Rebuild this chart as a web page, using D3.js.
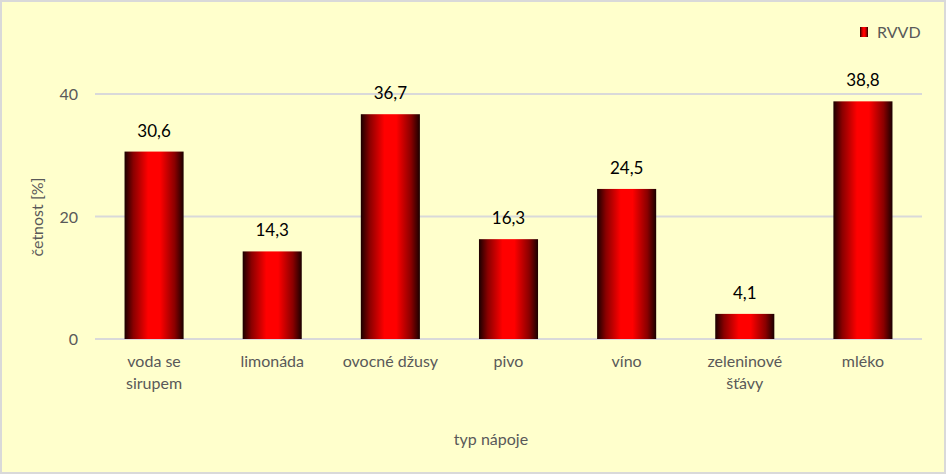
<!DOCTYPE html>
<html><head><meta charset="utf-8">
<script src="https://cdn.jsdelivr.net/npm/d3@7"></script>
<style>body{margin:0;background:#fff}svg{display:block}text{font-family:Lato,"Open Sans",sans-serif}</style>
</head><body>
<svg id="c" width="946" height="474"></svg>
<script>
const categories = [["voda se","sirupem"],["limonáda"],["ovocné džusy"],["pivo"],["víno"],["zeleninové","šťávy"],["mléko"]];
const values = [30.6,14.3,36.7,16.3,24.5,4.1,38.8];
const yTicks = [0,20,40];
const seriesName = "RVVD";

const svg = d3.select("#c");
svg.append("rect").attr("x",1).attr("y",1).attr("width",944).attr("height",472)
  .attr("fill","#ffffcc").attr("stroke","#d9d9d9").attr("stroke-width",2);

const defs = svg.append("defs");
const g = defs.append("linearGradient").attr("id","bg").attr("x1","0").attr("x2","1").attr("y1","0").attr("y2","0");
[["0%","#1a0000"],["15%","#8a0000"],["40%","#ff0000"],["60%","#ff0000"],["85%","#8a0000"],["100%","#1a0000"]]
 .forEach(s=>g.append("stop").attr("offset",s[0]).attr("stop-color",s[1]));

const x = d3.scaleBand().domain(d3.range(values.length)).range([95,922]).paddingInner(0.5).paddingOuter(0.25);
const y = d3.scaleLinear().domain([0,40]).range([339,94]);

svg.append("g").selectAll("line").data(yTicks).join("line")
  .attr("x1",95).attr("x2",922).attr("y1",d=>y(d)).attr("y2",d=>y(d))
  .attr("stroke","#d9d9d9").attr("stroke-width",2);

svg.append("g").selectAll("text").data(yTicks).join("text")
  .attr("x",78).attr("y",d=>y(d)+6).attr("text-anchor","end")
  .attr("font-size",16).attr("fill","#595959").text(d=>d);

svg.append("g").selectAll("rect").data(values).join("rect")
  .attr("x",(d,i)=>x(i)).attr("width",x.bandwidth())
  .attr("y",d=>y(d)).attr("height",d=>y(0)-y(d)).attr("fill","url(#bg)");

svg.append("g").selectAll("text").data(values).join("text")
  .attr("x",(d,i)=>x(i)+x.bandwidth()/2).attr("y",d=>y(d)-15).attr("text-anchor","middle")
  .attr("font-size",17).attr("fill","#000").text(d=>String(d).replace(".",","));

const cl = svg.append("g").selectAll("text").data(categories).join("text")
  .attr("x",(d,i)=>x(i)+x.bandwidth()/2).attr("y",367).attr("text-anchor","middle")
  .attr("font-size",16).attr("fill","#595959");
cl.selectAll("tspan").data(d=>d).join("tspan")
  .attr("x",function(){return this.parentNode.getAttribute("x");})
  .attr("dy",(d,i)=>i?22:0).text(d=>d);

svg.append("text").attr("transform","translate(43,217) rotate(-90)").attr("text-anchor","middle")
  .attr("font-size",16).attr("fill","#595959").text("četnost [%]");
svg.append("text").attr("x",491).attr("y",445).attr("text-anchor","middle")
  .attr("font-size",16).attr("fill","#595959").text("typ nápoje");

svg.append("rect").attr("x",860).attr("y",27).attr("width",8).attr("height",10).attr("fill","url(#bg)");
svg.append("text").attr("x",877).attr("y",38).attr("font-size",16).attr("fill","#595959").text(seriesName);
</script>
</body></html>
